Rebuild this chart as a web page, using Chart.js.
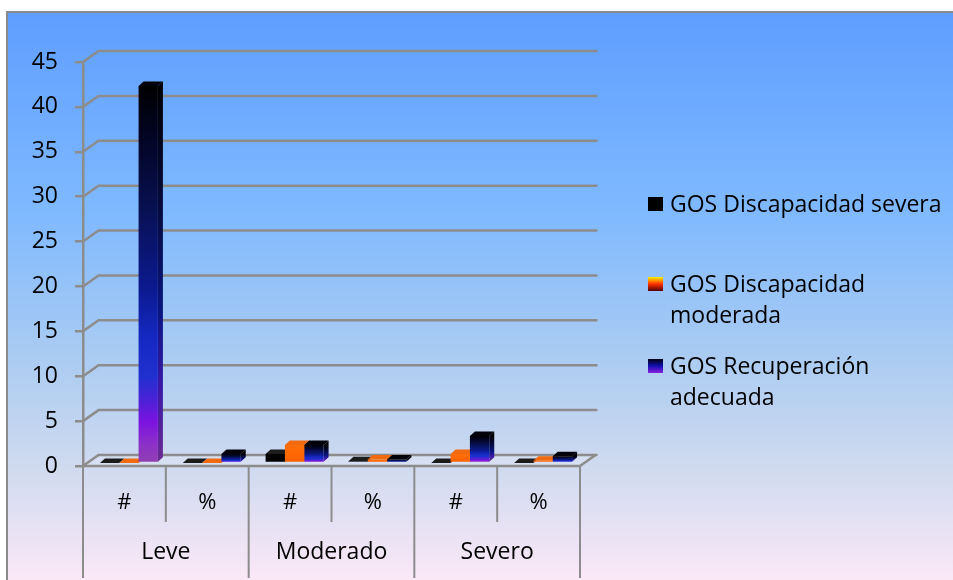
<!DOCTYPE html>
<html>
<head>
<meta charset="utf-8">
<script src="https://cdn.jsdelivr.net/npm/chart.js@4.4.0/dist/chart.umd.min.js"></script>
<style>
  html, body { margin: 0; padding: 0; background: #fff; }
  #wrap { width: 953px; height: 580px; position: relative; }
  canvas { display: block; }
</style>
</head>
<body>
<div id="wrap"><canvas id="c" width="953" height="580"></canvas></div>
<script>
// Categories: two sub-columns (# and %) for each severity group
const categories = ['#', '%', '#', '%', '#', '%'];
const groups = ['Leve', 'Moderado', 'Severo'];
const seriesNames = ['GOS Discapacidad severa', 'GOS Discapacidad moderada', 'GOS Recuperación adecuada'];
const discapacidadSevera = [0, 0, 1, 0.2, 0, 0];
const discapacidadModerada = [0, 0, 2, 0.4, 1, 0.25];
const recuperacionAdecuada = [42, 1, 2, 0.4, 3, 0.75];
const yMin = 0, yMax = 45, yStep = 5;

const FONT = "'Open Sans', 'DejaVu Sans', sans-serif";
const GRID = '#8c8c8c';

// Pseudo-3D geometry
const WALL_DX = 15.5, WALL_DY = 11;     // depth of the back wall / floor
const BAR_DX = 5, BAR_DY = 4.5;         // depth of each bar
const SHIFT_X = 4.5, SHIFT_Y = -3;      // bars stand a little behind the front edge

// Face colours per series: front gradient stops, top face, side gradient stops
const styles = [
  { front: [[0, '#050505'], [1, '#000000']], top: '#1c1c1c', side: [[0, '#000'], [1, '#000']], swatch: [[0, '#000'], [1, '#000']] },
  { front: [[0, '#ff6e08'], [1, '#ff6000']], top: '#f26a10', side: [[0, '#c24c00'], [1, '#b84400']], swatch: [[0, '#fff200'], [0.5, '#ff3000'], [1, '#500000']] },
  { front: [[0, '#000000'], [0.12, '#020420'], [0.32, '#081050'], [0.54, '#0c1a90'], [0.66, '#1428c0'], [0.77, '#2030d0'], [0.84, '#5020d8'], [0.89, '#7c12e0'], [0.95, '#8c30c8'], [1, '#9040b0']],
    top: '#03030c',
    side: [[0, '#000000'], [0.3, '#050a38'], [0.6, '#0a1680'], [0.8, '#3a18a8'], [1, '#6a2c90']],
    swatch: [[0, '#000010'], [0.5, '#1010b0'], [1, '#8a20e0']] }
];

function gradient(ctx, top, bottom, stops) {
  if (!isFinite(top) || !isFinite(bottom) || Math.abs(bottom - top) < 0.5) return stops[stops.length - 1][1];
  const g = ctx.createLinearGradient(0, top, 0, bottom);
  stops.forEach(([o, c]) => g.addColorStop(o, c));
  return g;
}

function frontFill(idx) {
  return (c) => {
    const ys = c.chart.scales.y;
    if (!ys || c.type !== 'data') return styles[idx].front[0][1];
    return gradient(c.chart.ctx, ys.getPixelForValue(c.raw), ys.getPixelForValue(0), styles[idx].front);
  };
}

function poly(ctx, pts, fill) {
  ctx.beginPath();
  ctx.moveTo(pts[0][0], pts[0][1]);
  for (let i = 1; i < pts.length; i++) ctx.lineTo(pts[i][0], pts[i][1]);
  ctx.closePath();
  ctx.fillStyle = fill;
  ctx.fill();
}

const scenePlugin = {
  id: 'scene',
  beforeDraw(chart) {
    const ctx = chart.ctx;
    ctx.save();
    ctx.fillStyle = '#ffffff';
    ctx.fillRect(0, 0, chart.width, chart.height);
    const g = ctx.createLinearGradient(0, 13, 0, chart.height);
    g.addColorStop(0, '#5e9eff');
    g.addColorStop(0.35, '#7fb9ff');
    g.addColorStop(0.6, '#a9cbf2');
    g.addColorStop(0.8, '#cfdaef');
    g.addColorStop(1, '#fbe8f7');
    ctx.fillStyle = g;
    ctx.fillRect(8, 13, chart.width - 8, chart.height - 13);
    ctx.strokeStyle = '#8a8a8a';
    ctx.lineWidth = 2;
    ctx.beginPath();
    ctx.moveTo(7, chart.height);
    ctx.lineTo(7, 12);
    ctx.lineTo(chart.width, 12);
    ctx.stroke();
    ctx.restore();
  },
  beforeDatasetsDraw(chart) {
    const ctx = chart.ctx;
    const ys = chart.scales.y;
    const a = chart.chartArea;
    ctx.save();
    ctx.lineCap = 'round';
    // floor
    const y0 = ys.getPixelForValue(0);
    poly(ctx, [[a.left, y0], [a.right, y0], [a.right + WALL_DX, y0 - WALL_DY], [a.left + WALL_DX, y0 - WALL_DY]], 'rgba(255,255,255,0.18)');
    ctx.strokeStyle = GRID;
    ctx.lineWidth = 2.5;
    ctx.beginPath();
    ctx.moveTo(a.left, y0);
    ctx.lineTo(a.right, y0);
    ctx.lineTo(a.right + WALL_DX, y0 - WALL_DY);
    ctx.stroke();
    // back wall grid lines with their diagonal into the front axis
    for (let v = yMin; v <= yMax; v += yStep) {
      const yf = ys.getPixelForValue(v);
      ctx.beginPath();
      ctx.moveTo(a.left, yf);
      ctx.lineTo(a.left + WALL_DX, yf - WALL_DY);
      ctx.lineTo(a.right + WALL_DX + 1, yf - WALL_DY);
      ctx.stroke();
    }
    ctx.restore();

    // bars: side and top faces, left to right, before the library draws the fronts
    ctx.save();
    ctx.translate(SHIFT_X, SHIFT_Y);
    const items = [];
    chart.data.datasets.forEach((ds, di) => {
      chart.getDatasetMeta(di).data.forEach((bar) => {
        const p = bar.getProps(['x', 'y', 'base', 'width'], true);
        items.push({ di, left: p.x - p.width / 2, right: p.x + p.width / 2, y: p.y, base: p.base });
      });
    });
    items.sort((m, n) => m.left - n.left);
    items.forEach((it) => {
      const st = styles[it.di];
      poly(ctx, [[it.right, it.y], [it.right + BAR_DX, it.y - BAR_DY], [it.right + BAR_DX, it.base - BAR_DY], [it.right, it.base]],
        gradient(ctx, it.y, it.base, st.side));
      poly(ctx, [[it.left, it.y], [it.right, it.y], [it.right + BAR_DX, it.y - BAR_DY], [it.left + BAR_DX, it.y - BAR_DY]], st.top);
    });
  },
  afterDatasetsDraw(chart) {
    chart.ctx.restore();
  },
  afterDraw(chart) {
    const ctx = chart.ctx;
    const xs = chart.scales.x;
    const a = chart.chartArea;
    const y0 = chart.scales.y.getPixelForValue(0);
    ctx.save();
    // category box lines under the floor
    const n = categories.length;
    const bounds = [];
    for (let i = 0; i <= n; i++) {
      if (i === 0) bounds.push(a.left);
      else if (i === n) bounds.push(a.right);
      else bounds.push((xs.getPixelForValue(i - 1) + xs.getPixelForValue(i)) / 2);
    }
    ctx.strokeStyle = GRID;
    ctx.lineWidth = 2;
    bounds.forEach((bx, i) => {
      ctx.beginPath();
      ctx.moveTo(bx, y0);
      ctx.lineTo(bx, i % 2 === 0 ? 578 : 522);
      ctx.stroke();
    });
    // labels
    ctx.fillStyle = '#000';
    ctx.font = '22px ' + FONT;
    ctx.textAlign = 'center';
    ctx.textBaseline = 'middle';
    categories.forEach((c, i) => ctx.fillText(c, xs.getPixelForValue(i), 503));
    ctx.font = '23px ' + FONT;
    groups.forEach((g, gi) => ctx.fillText(g, (bounds[gi * 2] + bounds[gi * 2 + 2]) / 2, 552));

    // legend
    const lx = 648, tx = 670, lineH = 31, maxW = chart.width - tx - 2;
    const baselines = [212, 292, 374];
    ctx.font = '23px ' + FONT;
    ctx.textAlign = 'left';
    ctx.textBaseline = 'alphabetic';
    seriesNames.forEach((name, i) => {
      const words = name.split(' ');
      const lines = [];
      let cur = '';
      words.forEach((w) => {
        const t = cur ? cur + ' ' + w : w;
        if (cur && ctx.measureText(t).width > maxW) { lines.push(cur); cur = w; } else cur = t;
      });
      lines.push(cur);
      const b = baselines[i];
      ctx.fillStyle = gradient(ctx, b - 15, b - 1, styles[i].swatch);
      ctx.fillRect(lx, b - 15, 15, 14);
      ctx.fillStyle = '#000';
      lines.forEach((ln, k) => ctx.fillText(ln, tx, b + k * lineH));
    });
    ctx.restore();
  }
};

new Chart(document.getElementById('c'), {
  type: 'bar',
  data: {
    labels: categories,
    datasets: [
      { label: seriesNames[0], data: discapacidadSevera, backgroundColor: frontFill(0) },
      { label: seriesNames[1], data: discapacidadModerada, backgroundColor: frontFill(1) },
      { label: seriesNames[2], data: recuperacionAdecuada, backgroundColor: frontFill(2) }
    ]
  },
  options: {
    responsive: false,
    animation: false,
    devicePixelRatio: 1,
    layout: { padding: { left: 0, right: 373, top: 62, bottom: 114 } },
    datasets: { bar: { categoryPercentage: 0.7, barPercentage: 1.0, borderWidth: 0 } },
    plugins: { legend: { display: false }, tooltip: { enabled: false } },
    scales: {
      x: { display: false },
      y: {
        min: yMin, max: yMax,
        afterFit: (s) => { s.width = 83; },
        ticks: { stepSize: yStep, color: '#000', padding: 17, font: { family: FONT, size: 23 } },
        grid: { drawOnChartArea: false, drawTicks: true, tickLength: 8, color: GRID, lineWidth: 2.5 },
        border: { display: true, color: GRID, width: 2.5 }
      }
    }
  },
  plugins: [scenePlugin]
});
</script>
</body>
</html>
